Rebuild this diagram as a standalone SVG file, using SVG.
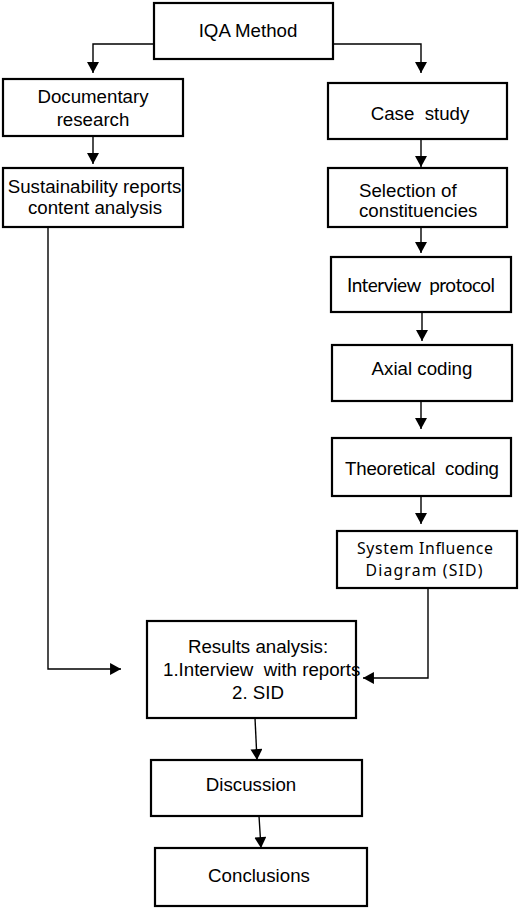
<svg xmlns="http://www.w3.org/2000/svg" width="520" height="909" viewBox="0 0 520 909">
<style>
.box{fill:none;stroke:#000;stroke-width:2.2}
.t{font-family:"Liberation Sans",Arial,sans-serif;font-size:18.7px;fill:#000;text-anchor:middle}
.c{font-family:Lato,"Liberation Sans",sans-serif;font-size:19px;fill:#000;text-anchor:middle}
.h{font-family:"Noto Sans","Open Sans",sans-serif;font-size:15.8px;fill:#000;text-anchor:middle}
.ln{fill:none;stroke:#000;stroke-width:1.4}
</style>
<defs>
<marker id="arr" markerUnits="userSpaceOnUse" markerWidth="12" markerHeight="12" viewBox="0 0 10 11" refX="10" refY="5.5" orient="auto">
<path d="M0,0 L10,5.5 L0,11 Z" fill="#000"/>
</marker>
</defs>
<rect width="520" height="909" fill="#fff"/>
<g id="connectors">
<path class="ln" d="M154,44 H93 V73" marker-end="url(#arr)"/>
<path class="ln" d="M333,44 H421 V73" marker-end="url(#arr)"/>
<path class="ln" d="M93,136 V164" marker-end="url(#arr)"/>
<path class="ln" d="M421,139 V167" marker-end="url(#arr)"/>
<path class="ln" d="M421,227 V253" marker-end="url(#arr)"/>
<path class="ln" d="M422,312 V341" marker-end="url(#arr)"/>
<path class="ln" d="M421,401 V429" marker-end="url(#arr)"/>
<path class="ln" d="M421,496 V524" marker-end="url(#arr)"/>
<path class="ln" d="M48,227 V669 H121" marker-end="url(#arr)"/>
<path class="ln" d="M428,588 V678 H363" marker-end="url(#arr)"/>
<path class="ln" d="M255,718 L257,760" marker-end="url(#arr)"/>
<path class="ln" d="M259,816 L261,848" marker-end="url(#arr)"/>
</g>
<g id="n-iqa">
<rect class="box" x="154" y="3" width="179" height="56"/>
<text class="t" x="248" y="37">IQA Method</text>
</g>
<g id="n-doc">
<rect class="box" x="3" y="79" width="180" height="57"/>
<text class="t" x="93" y="103">Documentary</text>
<text class="t" x="93" y="126">research</text>
</g>
<g id="n-case">
<rect class="box" x="328" y="83" width="179" height="56"/>
<text class="t" x="420" y="120">Case&#160; study</text>
</g>
<g id="n-sust">
<rect class="box" x="3" y="168" width="180" height="59"/>
<text class="t" x="94.5" y="193">Sustainability reports</text>
<text class="t" x="95" y="214">content analysis</text>
</g>
<g id="n-sel">
<rect class="box" x="328" y="168" width="179" height="59"/>
<text class="t" x="359" y="197" style="text-anchor:start">Selection of</text>
<text class="t" x="359" y="217" style="text-anchor:start">constituencies</text>
</g>
<g id="n-int">
<rect class="box" x="331" y="257" width="180" height="55"/>
<text class="c" x="421" y="292" textLength="148">Interview&#160; protocol</text>
</g>
<g id="n-axial">
<rect class="box" x="332" y="345" width="180" height="56"/>
<text class="t" x="422" y="375">Axial coding</text>
</g>
<g id="n-theo">
<rect class="box" x="332" y="438" width="179" height="58"/>
<text class="t" x="422" y="475" textLength="154">Theoretical&#160; coding</text>
</g>
<g id="n-sid">
<rect class="box" x="337" y="531" width="180" height="57"/>
<text class="h" x="425" y="554" textLength="136">System Influence</text>
<text class="h" x="424" y="576" textLength="117">Diagram (SID)</text>
</g>
<g id="n-results">
<text class="t" x="258" y="653">Results analysis:</text>
<text class="t" x="163" y="676" style="text-anchor:start">1.Interview&#160; with reports</text>
<text class="t" x="258" y="699">2. SID</text>
<rect class="box" x="147" y="621" width="209" height="97"/>
</g>
<g id="n-disc">
<rect class="box" x="151" y="760" width="211" height="56"/>
<text class="t" x="251" y="791">Discussion</text>
</g>
<g id="n-concl">
<rect class="box" x="155" y="848" width="212" height="58"/>
<text class="t" x="259" y="882">Conclusions</text>
</g>
</svg>
